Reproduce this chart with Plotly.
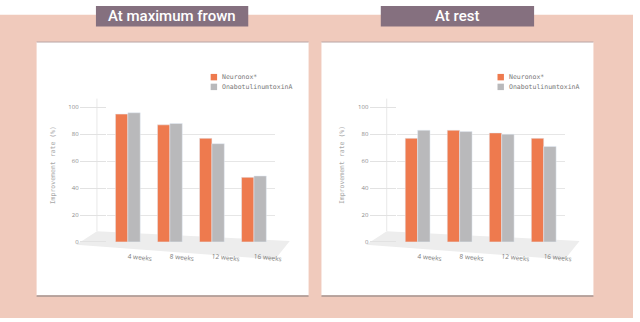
import plotly.graph_objects as go

categories = ["4 weeks", "8 weeks", "12 weeks", "16 weeks"]
series_names = ["Neuronox*", "OnabotulinumtoxinA"]
frown_neuronox = [95, 87, 77, 48]
frown_onabot = [96, 88, 73, 49]
rest_neuronox = [77, 83, 81, 77]
rest_onabot = [83, 82, 80, 71]
panel_titles = ["At maximum frown", "At rest"]
y_ticks = [0, 20, 40, 60, 80, 100]
y_title = "Improvement rate (%)"

ORANGE = "#EE7A4E"
GRAY = "#B9B9BB"
SALMON = "#F0CABC"
MAUVE = "#85707F"
W, H = 640, 322


def px(x):
    return x / W


def py(y):
    return 1 - y / H


fig = go.Figure()

# bars
for xa, ya, n_vals, o_vals in [("x", "y", frown_neuronox, frown_onabot),
                               ("x2", "y2", rest_neuronox, rest_onabot)]:
    fig.add_trace(go.Bar(x=categories, y=n_vals, name=series_names[0], marker_color=ORANGE,
                         xaxis=xa, yaxis=ya, showlegend=False))
    fig.add_trace(go.Bar(x=categories, y=o_vals, name=series_names[1], marker_color=GRAY,
                         xaxis=xa, yaxis=ya, showlegend=False))

shapes = []
annotations = []
# salmon background below top white strip
shapes.append(dict(type="rect", xref="paper", yref="paper", x0=0, x1=1, y0=0, y1=py(11),
                   fillcolor=SALMON, line_width=0, layer="below"))

for i, dx in enumerate([0, 288]):
    # panel
    shapes.append(dict(type="rect", xref="paper", yref="paper", x0=px(37 + dx), x1=px(312 + dx),
                       y0=py(299), y1=py(39), fillcolor="white", line_width=0, layer="below"))
    shapes.append(dict(type="line", xref="paper", yref="paper", x0=px(37 + dx), x1=px(312 + dx),
                       y0=py(299.5), y1=py(299.5), line=dict(color="#A6938F", width=1.5), layer="below"))
    shapes.append(dict(type="line", xref="paper", yref="paper", x0=px(37 + dx), x1=px(312 + dx),
                       y0=py(39), y1=py(39), line=dict(color="#B9A6A6", width=1), layer="below"))

for i, (bx0, bx1) in enumerate([(97, 251), (385, 540)]):
    shapes.append(dict(type="rect", xref="paper", yref="paper", x0=px(bx0), x1=px(bx1),
                       y0=py(23), y1=py(2), fillcolor=MAUVE, line_width=0, layer="below"))
    annotations.append(dict(text=panel_titles[i], xref="paper", yref="paper",
                            x=px((bx0 + bx1) / 2), y=py(12.5), showarrow=False,
                            xanchor="center", yanchor="middle",
                            font=dict(family="Roboto", size=15, color="white", weight=500)))

for i, cdx in enumerate([0, 293]):
    # floor
    path = "M {} {} L {} {} L {} {} L {} {} Z".format(
        px(77 + cdx), py(247), px(98 + cdx), py(233), px(293 + cdx), py(243), px(278 + cdx), py(262))
    shapes.append(dict(type="path", xref="paper", yref="paper", path=path,
                       fillcolor="#EDEDED", line_width=0, layer="below"))
    # back wall left edge
    shapes.append(dict(type="line", xref="paper", yref="paper", x0=px(98 + cdx), x1=px(98 + cdx),
                       y0=py(233), y1=py(97), line=dict(color="#E8E8E8", width=1), layer="below"))
    annotations.append(dict(text=y_title, xref="paper", yref="paper", x=px(53 + cdx), y=py(165),
                            textangle=-90, showarrow=False, xanchor="center", yanchor="middle",
                            font=dict(family="DejaVu Sans Mono", size=6.5, color="#A8A8A8")))

# legends (one per panel): small squares + labels
for lx in [213, 503]:
    for j, (name, col) in enumerate(zip(series_names, [ORANGE, GRAY])):
        cy = 75 + j * 10
        shapes.append(dict(type="rect", xref="paper", yref="paper", x0=px(lx), x1=px(lx + 6.5),
                           y0=py(cy + 3.3), y1=py(cy - 3.3), fillcolor=col, line_width=0))
        annotations.append(dict(text=name, xref="paper", yref="paper", x=px(lx + 9.5), y=py(cy),
                                showarrow=False, xanchor="left", yanchor="middle",
                                font=dict(family="DejaVu Sans Mono", size=6.5, color="#777777")))

yaxis_common = dict(range=[0, 100], tickvals=y_ticks, showgrid=True, gridcolor="#E6E6E6",
                    gridwidth=1, zeroline=False, showline=False, ticks="outside", ticklen=26,
                    tickcolor="#E2E2E2", tickfont=dict(family="Open Sans", size=6, color="#8A8A8A"),
                    fixedrange=True)
xaxis_common = dict(type="category", showgrid=False, showline=False, ticks="",
                    tickfont=dict(family="Open Sans", size=6.5, color="#7A7A7A"),
                    ticklabelstandoff=9, tickangle=6, fixedrange=True)

fig.update_layout(
    width=W, height=H, margin=dict(l=0, r=0, t=0, b=0),
    paper_bgcolor="white", plot_bgcolor="rgba(0,0,0,0)",
    barmode="group", bargap=0.41, bargroupgap=0,
    xaxis=dict(domain=[px(108), px(278)], anchor="y", **xaxis_common),
    yaxis=dict(domain=[py(244), py(106)], anchor="x", **yaxis_common),
    xaxis2=dict(domain=[px(401), px(571)], anchor="y2", **xaxis_common),
    yaxis2=dict(domain=[py(244), py(106)], anchor="x2", **yaxis_common),
    shapes=shapes, annotations=annotations,
    showlegend=False,
)

fig.write_html("out.html")
